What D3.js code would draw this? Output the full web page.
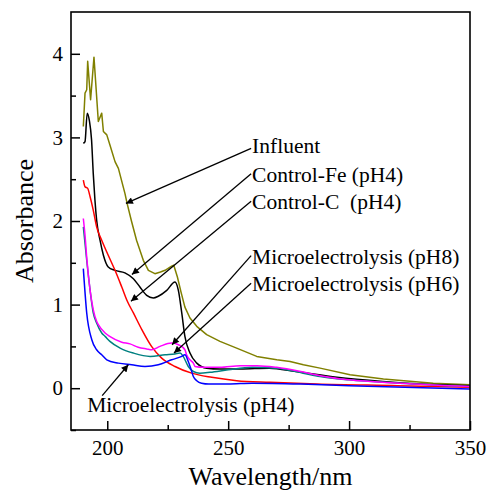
<!DOCTYPE html>
<html>
<head>
<meta charset="utf-8">
<script src="https://cdn.jsdelivr.net/npm/d3@7"></script>
<style>
  html, body { margin: 0; padding: 0; background: #fff; }
  svg { display: block; font-family: "Liberation Serif", "Times New Roman", serif; }
</style>
</head>
<body>
<svg id="chart" width="489" height="492"></svg>
<script>
// ---------------- data ----------------
const seriesNames = ["Influent", "Control-Fe (pH4)", "Control-C  (pH4)",
  "Microelectrolysis (pH8)", "Microelectrolysis (pH6)", "Microelectrolysis (pH4)"];
const seriesColors = ["#808000", "#000000", "#ff0000", "#ff00ff", "#008080", "#0000ff"];

const influentWl  = [190.1,190.8,191.5,191.9,193.1,194.5,196.3,197.7,198.4,199.8,201.1,203.2,204.6,207.3,208.2,210.0,212.1,214.9,217.0,219.7,222.0,223.9,226.6,227.5,229.0,230.5,232.1,234.2,237.0,241.1,246.6,253.5,261.8,270.1,275.6,281.1,288.0,300.4,314.2,334.8,350.0];
const influentAbs = [3.13,3.53,3.57,3.91,3.45,3.96,3.19,3.29,3.07,3.03,2.91,2.71,2.63,2.33,2.21,2.00,1.77,1.53,1.41,1.37,1.39,1.41,1.46,1.47,1.33,1.15,0.97,0.84,0.74,0.64,0.56,0.48,0.38,0.34,0.32,0.28,0.24,0.16,0.11,0.06,0.04];

const controlFeWl  = [190.1,190.8,191.7,192.6,193.5,194.2,194.9,195.6,197.0,198.4,200.4,203.2,207.3,210.8,213.5,216.3,219.0,221.1,224.6,228.0,229.4,230.8,232.1,234.2,237.0,241.1,246.6,255.0,267.0,278.0,295.0,314.0,330.0,350.0];
const controlFeAbs = [2.93,2.95,3.29,3.20,2.97,2.57,2.25,2.01,1.77,1.59,1.45,1.41,1.38,1.31,1.21,1.11,1.08,1.10,1.17,1.27,1.17,0.90,0.62,0.42,0.30,0.24,0.23,0.23,0.24,0.20,0.13,0.08,0.05,0.03];

const controlCWl  = [190.1,190.8,191.9,192.9,194.2,195.6,197.7,200.4,203.2,206.0,208.3,210.8,214.3,218.3,222.5,228.0,234.9,243.2,253.5,267.3,286.6,320.0,350.0];
const controlCAbs = [2.49,2.41,2.39,2.29,2.13,1.93,1.77,1.59,1.41,1.21,1.04,0.90,0.70,0.50,0.36,0.26,0.18,0.13,0.09,0.07,0.05,0.03,0.01];

const me8Wl  = [190.1,190.8,191.6,192.9,194.2,195.6,196.3,199.1,201.0,206.0,209.4,212.8,216.3,218.4,221.8,226.6,227.3,229.4,232.1,232.8,234.2,235.6,236.3,239.7,246.6,255.0,262.0,270.0,280.0,288.0,300.0,321.0,350.0];
const me8Abs = [2.03,1.83,1.53,1.17,0.94,0.80,0.76,0.66,0.62,0.55,0.53,0.49,0.47,0.46,0.50,0.54,0.54,0.52,0.46,0.40,0.34,0.30,0.26,0.25,0.25,0.27,0.27,0.25,0.20,0.15,0.10,0.06,0.02];

const me6Wl  = [190.1,191.5,192.9,194.2,195.6,197.7,199.1,201.1,205.3,210.8,217.7,223.9,228.0,230.1,231.4,233.5,235.6,238.3,242.5,250.0,260.0,270.0,281.0,288.0,300.0,321.0,350.0];
const me6Abs = [1.93,1.53,1.17,0.90,0.78,0.66,0.62,0.56,0.48,0.42,0.38,0.40,0.41,0.42,0.38,0.26,0.20,0.18,0.19,0.22,0.25,0.24,0.18,0.14,0.10,0.06,0.02];

const me4Wl  = [190.1,191.5,193.6,195.6,197.7,199.8,204.6,210.1,215.6,221.1,226.6,230.8,232.1,233.5,234.5,235.6,237.0,239.0,242.0,250.0,260.0,280.0,300.0,350.0];
const me4Abs = [1.43,0.90,0.58,0.46,0.40,0.34,0.30,0.28,0.26,0.28,0.34,0.38,0.40,0.32,0.24,0.14,0.09,0.06,0.05,0.05,0.06,0.05,0.03,-0.01];

const xTickValues = [200, 250, 300, 350];
const xMinorTicks = [225, 275, 325];
const yTickValues = [0, 1, 2, 3, 4];
const yMinorTicks = [-0.5, 0.5, 1.5, 2.5, 3.5];

// ---------------- layout ----------------
const W = 489, H = 492;
const margin = {left: 71, right: 19, top: 12, bottom: 62};
const svg = d3.select("#chart");
const x = d3.scaleLinear().domain([185, 350]).range([margin.left, W - margin.right]);
const y = d3.scaleLinear().domain([-0.5, 4.5]).range([H - margin.bottom, margin.top]);

svg.append("defs").append("clipPath").attr("id", "clip")
  .append("rect").attr("x", x(185)).attr("y", y(4.5))
  .attr("width", x(350) - x(185)).attr("height", y(-0.5) - y(4.5));

svg.append("defs").append("marker")
  .attr("id", "arrow").attr("viewBox", "0 0 10 10")
  .attr("refX", 10).attr("refY", 5)
  .attr("markerWidth", 11).attr("markerHeight", 7)
  .attr("markerUnits", "userSpaceOnUse")
  .attr("orient", "auto")
  .append("path").attr("d", "M0,0 L10,5 L0,10 Z").attr("fill", "#000");

// ---------------- series ----------------
const series = [
  {wl: influentWl, ab: influentAbs, curve: d3.curveLinear},
  {wl: controlFeWl, ab: controlFeAbs, curve: d3.curveMonotoneX},
  {wl: controlCWl, ab: controlCAbs, curve: d3.curveMonotoneX},
  {wl: me8Wl, ab: me8Abs, curve: d3.curveMonotoneX},
  {wl: me6Wl, ab: me6Abs, curve: d3.curveMonotoneX},
  {wl: me4Wl, ab: me4Abs, curve: d3.curveMonotoneX}
].map((s, i) => ({...s, name: seriesNames[i], color: seriesColors[i]}));

const drawOrder = [0, 1, 2, 4, 3, 5];
const gLines = svg.append("g").attr("clip-path", "url(#clip)");
drawOrder.forEach(i => {
  const s = series[i];
  const pts = s.wl.map((w, j) => [w, s.ab[j]]);
  gLines.append("path")
    .attr("d", d3.line().x(d => x(d[0])).y(d => y(d[1])).curve(s.curve)(pts))
    .attr("fill", "none").attr("stroke", s.color).attr("stroke-width", 1.5)
    .attr("stroke-linejoin", "round");
});

// ---------------- axes ----------------
const fs = 21;
const xAxis = svg.append("g").attr("transform", `translate(0,${y(-0.5)})`)
  .call(d3.axisBottom(x).tickValues(xTickValues).tickFormat(d3.format("d"))
    .tickSizeInner(-9).tickSizeOuter(0).tickPadding(10));
svg.append("g").attr("transform", `translate(0,${y(-0.5)})`)
  .call(d3.axisBottom(x).tickValues(xMinorTicks).tickFormat("")
    .tickSizeInner(-5).tickSizeOuter(0));
const yAxis = svg.append("g").attr("transform", `translate(${x(185)},0)`)
  .call(d3.axisLeft(y).tickValues(yTickValues).tickFormat(d3.format("d"))
    .tickSizeInner(-9).tickSizeOuter(0).tickPadding(8));
svg.append("g").attr("transform", `translate(${x(185)},0)`)
  .call(d3.axisLeft(y).tickValues(yMinorTicks).tickFormat("")
    .tickSizeInner(-5).tickSizeOuter(0));

svg.selectAll(".domain").remove();
svg.selectAll(".tick line").attr("stroke", "#000").attr("stroke-width", 1.5);
svg.selectAll(".tick text").attr("font-family", "Liberation Serif, serif")
  .attr("font-size", fs).attr("fill", "#000");

// frame
svg.append("rect")
  .attr("x", x(185)).attr("y", y(4.5))
  .attr("width", x(350) - x(185)).attr("height", y(-0.5) - y(4.5))
  .attr("fill", "none").attr("stroke", "#000").attr("stroke-width", 1.6);

// axis titles
svg.append("text").attr("x", (x(185) + x(350)) / 2).attr("y", 485)
  .attr("text-anchor", "middle").attr("font-size", 26).text("Wavelength/nm");
svg.append("text").attr("transform", `translate(33,${(y(-0.5) + y(4.5)) / 2}) rotate(-90)`)
  .attr("text-anchor", "middle").attr("font-size", 26).text("Absorbance");

// ---------------- annotations ----------------
// label anchor (data coords of text start/baseline), arrow tail offset, arrow tip (data coords)
const annotations = [
  {label: seriesNames[0], lx: 259.9, ly: 2.81, tail: [-1, -5], tip: [207.7, 2.21]},
  {label: seriesNames[1], lx: 259.9, ly: 2.47, tail: [-1, -8], tip: [210.2, 1.36]},
  {label: seriesNames[2], lx: 259.9, ly: 2.14, tail: [-1, -8], tip: [209.8, 1.04]},
  {label: seriesNames[3], lx: 259.9, ly: 1.49, tail: [-1, -8], tip: [226.8, 0.52]},
  {label: seriesNames[4], lx: 259.9, ly: 1.16, tail: [-1, -8], tip: [227.6, 0.42]},
  {label: seriesNames[5], lx: 191.7, ly: -0.28, tail: [15, -16], tip: [208.7, 0.28]}
];
const gAnn = svg.append("g");
annotations.forEach(a => {
  const tx = x(a.lx), ty = y(a.ly);
  gAnn.append("text").attr("x", tx).attr("y", ty)
    .attr("font-size", 21.5).attr("fill", "#000")
    .style("white-space", "pre").text(a.label);
  gAnn.append("line")
    .attr("x1", tx + a.tail[0]).attr("y1", ty + a.tail[1])
    .attr("x2", x(a.tip[0])).attr("y2", y(a.tip[1]))
    .attr("stroke", "#000").attr("stroke-width", 1.3)
    .attr("marker-end", "url(#arrow)");
});
</script>
</body>
</html>
